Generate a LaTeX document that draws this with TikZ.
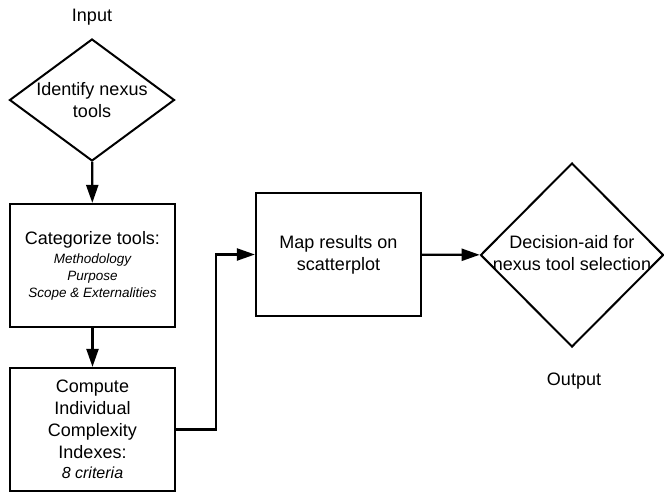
\documentclass[tikz,border=0pt]{standalone}
\usepackage{fontspec}
\setmainfont{Liberation Sans}
\usetikzlibrary{shapes.geometric,arrows.meta}
\newcommand{\itsm}[1]{{\fontsize{13.5}{16.5}\selectfont\itshape #1}}
\begin{document}
\begin{tikzpicture}[
  x=1pt, y=-1pt,
  every node/.style={font=\fontsize{18}{22}\selectfont},
  box/.style={rectangle, draw, line width=2.2pt, minimum width=165pt, minimum height=123pt, align=center, inner sep=0pt},
  decision/.style={diamond, draw, line width=2pt, inner sep=0pt},
  inner/.style={align=center, font=\fontsize{18}{22}\selectfont},
  arrow/.style={-{Triangle[length=18pt,width=12pt]}, line width=2.2pt}
]
\useasboundingbox (0,0) rectangle (664,493);
\node (in) at (92,17) {Input};
\node[decision, minimum width=165pt, minimum height=122pt,
  label={[inner]center:Identify nexus\\tools}] (ident) at (92,100) {};
\node[box] (cat) at (92.5,265.5) {Categorize tools:\\[-3pt]
  \itsm{Methodology}\\[-5pt] \itsm{Purpose}\\[-5pt] \itsm{Scope \& Externalities}};
\node[box] (comp) at (92.5,429.5) {Compute\\Individual\\Complexity\\Indexes:\\[-2pt]
  {\fontsize{16}{18}\selectfont\itshape 8 criteria}};
\node[box] (map) at (338.5,254.5) {Map results on\\scatterplot};
\node[decision, minimum width=183pt, minimum height=184pt,
  label={[inner, yshift=2pt]center:Decision-aid for\\nexus tool selection}] (aid) at (572,255) {};
\node (out) at (574,381) {Output};
\draw[arrow] (ident) -- (cat);
\draw[arrow] (cat) -- (comp);
\draw[arrow] (comp.east) -- ++(40,0) |- (map.west);
\draw[arrow] (map) -- (aid);
\end{tikzpicture}
\end{document}
